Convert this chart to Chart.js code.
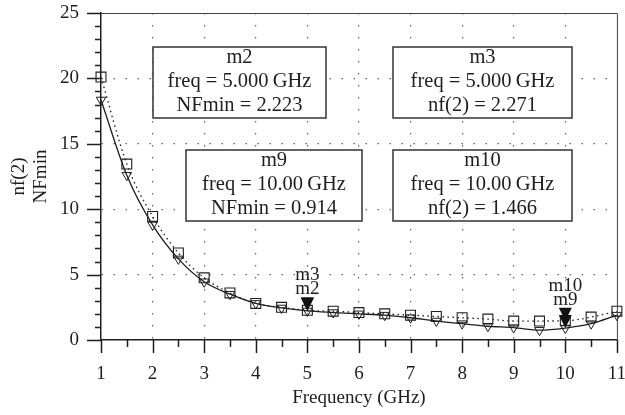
<!DOCTYPE html>
<html>
<head>
<meta charset="utf-8">
<script src="https://cdn.jsdelivr.net/npm/chart.js@4.4.0/dist/chart.umd.min.js"></script>
<style>
  html, body { margin: 0; padding: 0; background: #fff; }
</style>
</head>
<body>
<canvas id="chart" width="625" height="415"></canvas>
<script>
// frequency points (GHz)
const freq = [1, 1.5, 2, 2.5, 3, 3.5, 4, 4.5, 5, 5.5, 6, 6.5, 7, 7.5, 8, 8.5, 9, 9.5, 10, 10.5, 11];
// nf(2) - squares, dotted
const nf2 = [20.1, 13.45, 9.45, 6.65, 4.75, 3.6, 2.8, 2.5, 2.271, 2.2, 2.1, 2.0, 1.9, 1.8, 1.7, 1.6, 1.45, 1.45, 1.466, 1.75, 2.2];
// NFmin - triangles, solid
const nfMin = [18.35, 12.6, 8.8, 6.2, 4.45, 3.5, 2.8, 2.45, 2.223, 2.1, 2.0, 1.9, 1.7, 1.45, 1.25, 1.05, 0.95, 0.75, 0.914, 1.25, 1.9];

const xTicks = [1, 2, 3, 4, 5, 6, 7, 8, 9, 10, 11];
const yTicks = [0, 5, 10, 15, 20, 25];

// markers
const markerNames = ['m2', 'm3', 'm9', 'm10'];
const markerFreq = [5, 5, 10, 10];
const markerVals = [2.223, 2.271, 0.914, 1.466];
const markerSeries = ['NFmin', 'nf(2)', 'NFmin', 'nf(2)'];

// readout box placement (canvas px): left, top, width, height
const boxLayout = [
  [153, 47, 173, 71],
  [393, 47, 179, 71],
  [186, 150, 176, 71],
  [393, 150, 179, 71]
];

const FONT = "'Liberation Serif', 'Times New Roman', serif";
const INK = '#1e1e1e';

const extras = {
  id: 'extras',
  afterDraw(chart) {
    const { ctx, chartArea: a, scales: { x, y } } = chart;
    ctx.save();
    // top and right frame
    ctx.strokeStyle = '#444';
    ctx.lineWidth = 1;
    ctx.beginPath();
    ctx.moveTo(a.left, a.top + 0.5);
    ctx.lineTo(a.right + 0.5, a.top + 0.5);
    ctx.lineTo(a.right + 0.5, a.bottom);
    ctx.stroke();

    // tick marks (major outward long, minor short)
    ctx.strokeStyle = INK;
    ctx.lineWidth = 1.5;
    ctx.beginPath();
    for (let v = xTicks[0]; v <= xTicks[xTicks.length - 1]; v += 0.5) {
      const px = Math.round(x.getPixelForValue(v)) + 0.5;
      const len = Number.isInteger(v) ? 13 : 7;
      ctx.moveTo(px, a.bottom);
      ctx.lineTo(px, a.bottom + len);
    }
    for (let v = yTicks[0]; v <= yTicks[yTicks.length - 1]; v += 1) {
      const py = Math.round(y.getPixelForValue(v)) + 0.5;
      const len = v % 5 === 0 ? 14 : 6;
      ctx.moveTo(a.left, py);
      ctx.lineTo(a.left - len, py);
    }
    ctx.stroke();

    // marker triangles + labels
    const groups = {};
    markerNames.forEach((n, i) => {
      const px = x.getPixelForValue(markerFreq[i]);
      const py = y.getPixelForValue(markerVals[i]);
      ctx.fillStyle = '#111';
      ctx.beginPath();
      ctx.moveTo(px, py);
      ctx.lineTo(px - 6.5, py - 13);
      ctx.lineTo(px + 6.5, py - 13);
      ctx.closePath();
      ctx.fill();
      (groups[markerFreq[i]] = groups[markerFreq[i]] || { px, top: py - 13, names: [] });
      const g = groups[markerFreq[i]];
      g.top = Math.min(g.top, py - 13);
      g.names.push(n);
    });
    ctx.font = '19px ' + FONT;
    ctx.textAlign = 'center';
    ctx.textBaseline = 'middle';
    ctx.fillStyle = INK;
    Object.values(groups).forEach(g => {
      g.names.forEach((n, k) => {
        ctx.fillText(n, g.px, g.top - 8 - k * 14);
      });
    });

    // readout boxes
    ctx.font = '20.5px ' + FONT;
    markerNames.forEach((n, i) => {
      const [bx, by, bw, bh] = boxLayout[i];
      ctx.fillStyle = '#fff';
      ctx.fillRect(bx, by, bw, bh);
      ctx.strokeStyle = '#333';
      ctx.lineWidth = 1.5;
      ctx.strokeRect(bx, by, bw, bh);
      ctx.fillStyle = INK;
      const cx = bx + bw / 2;
      ctx.fillText(n, cx, by + 11);
      ctx.fillText('freq = ' + markerFreq[i].toPrecision(4) + '\u2009GHz', cx, by + 35);
      ctx.fillText(markerSeries[i] + ' = ' + markerVals[i].toFixed(3), cx, by + 59);
    });
    ctx.restore();
  }
};

const gridColor = (lo, hi) => c => (c.tick && c.tick.value > lo && c.tick.value < hi) ? '#666' : 'rgba(0,0,0,0)';

new Chart(document.getElementById('chart').getContext('2d'), {
  type: 'line',
  data: {
    datasets: [
      {
        label: 'NFmin',
        data: freq.map((f, i) => ({ x: f, y: nfMin[i] })),
        borderColor: INK,
        borderWidth: 1.3,
        cubicInterpolationMode: 'monotone',
        pointStyle: 'triangle',
        rotation: 180,
        pointRadius: 5.5,
        pointBorderWidth: 1,
        pointBorderColor: INK,
        pointBackgroundColor: 'rgba(0,0,0,0)',
        clip: false
      },
      {
        label: 'nf(2)',
        data: freq.map((f, i) => ({ x: f, y: nf2[i] })),
        borderColor: INK,
        borderWidth: 1.3,
        borderDash: [1.5, 3.5],
        cubicInterpolationMode: 'monotone',
        pointStyle: 'rect',
        pointRadius: 7,
        pointBorderWidth: 1.1,
        pointBorderColor: INK,
        pointBackgroundColor: 'rgba(0,0,0,0)',
        clip: false
      }
    ]
  },
  options: {
    responsive: false,
    animation: false,
    devicePixelRatio: 1,
    layout: { padding: { top: 13, right: 7, left: 0, bottom: 0 } },
    plugins: { legend: { display: false }, tooltip: { enabled: false } },
    scales: {
      x: {
        type: 'linear',
        min: 1,
        max: 11,
        afterBuildTicks: s => { s.ticks = xTicks.map(v => ({ value: v })); },
        afterFit: s => { s.height = 75; s.paddingLeft = 0; s.paddingRight = 0; },
        ticks: { color: INK, font: { family: FONT, size: 19 }, padding: 23, maxRotation: 0, autoSkip: false },
        grid: { color: gridColor(1, 11), lineWidth: 1.2, drawTicks: false },
        border: { display: true, color: INK, width: 1.5, dash: [1.5, 10.5] },
        title: { display: true, text: 'Frequency (GHz)', color: INK, font: { family: FONT, size: 19 }, padding: { top: 4, bottom: 6 } }
      },
      y: {
        min: 0,
        max: 25,
        afterBuildTicks: s => { s.ticks = yTicks.map(v => ({ value: v })); },
        afterFit: s => { s.width = 101; s.paddingTop = 0; s.paddingBottom = 0; },
        ticks: { color: INK, font: { family: FONT, size: 19 }, padding: 22 },
        grid: { color: gridColor(0, 25), lineWidth: 1.2, drawTicks: false },
        border: { display: true, color: INK, width: 1.5, dash: [1.5, 10.5] },
        title: { display: true, text: ['nf(2)', 'NFmin'], color: INK, font: { family: FONT, size: 19, lineHeight: 1.15 }, padding: { top: 8, bottom: 0 } }
      }
    }
  },
  plugins: [extras]
});
</script>
</body>
</html>
